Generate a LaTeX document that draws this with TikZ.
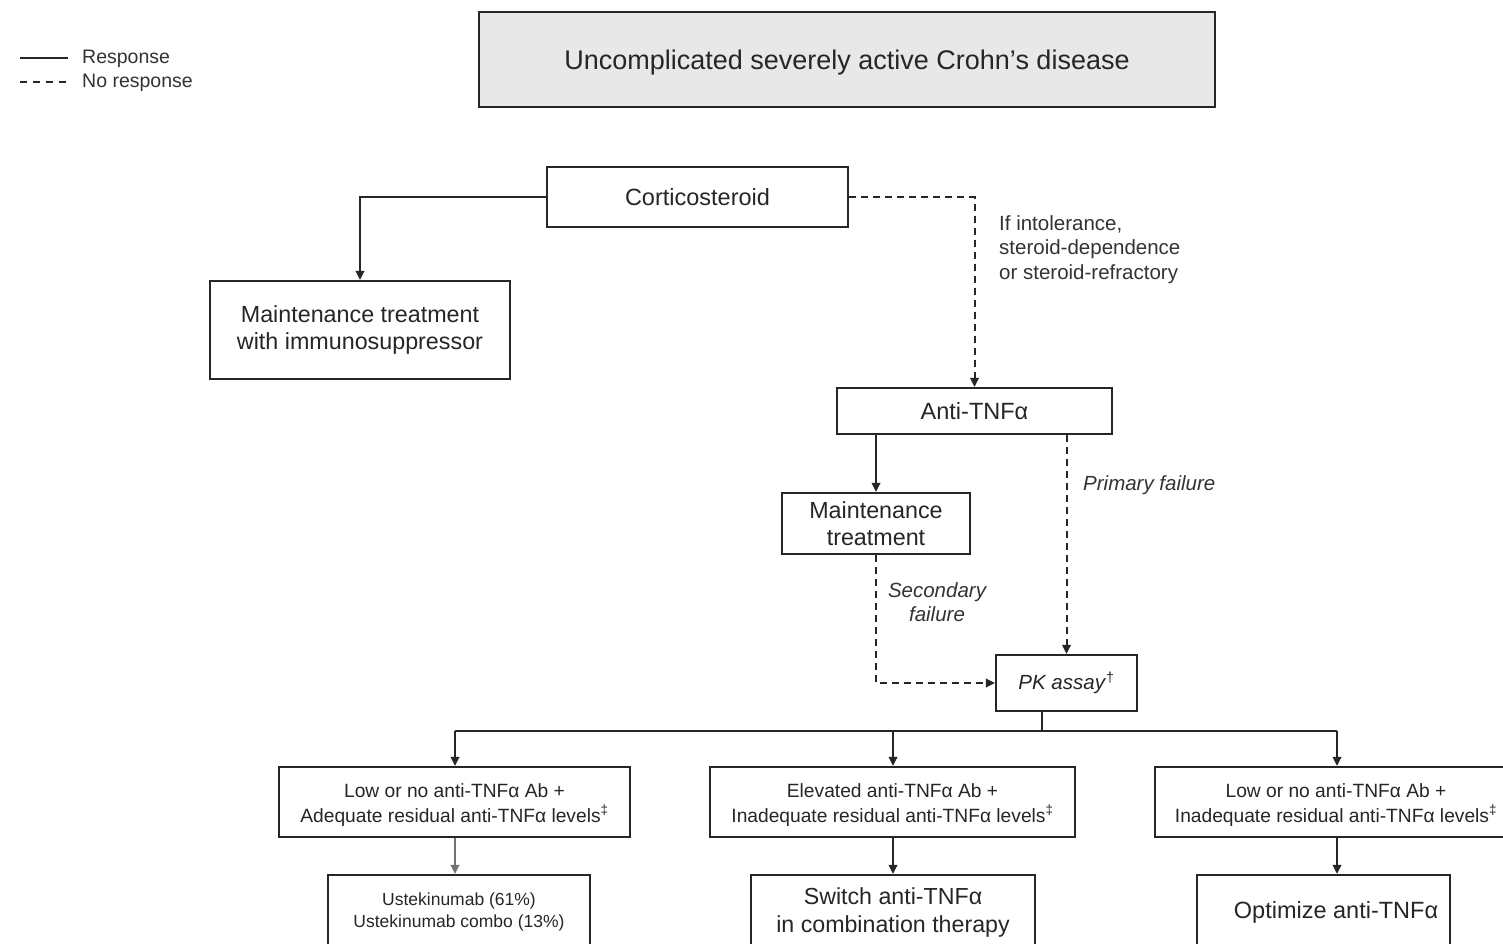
\documentclass[tikz,border=0pt]{standalone}
\usepackage{fontspec}
\setmainfont{Liberation Sans}
\usetikzlibrary{arrows.meta}
\newcommand{\fsz}[1]{\fontsize{#1}{30}\selectfont}
\newcommand{\lowr}[2]{\raisebox{-#1}[\height][\depth]{#2}}
\begin{document}
\begin{tikzpicture}[x=1pt,y=-1pt,
  box/.style={draw=black!85, line width=2.2pt, fill=white, align=center, inner sep=0pt, text=black!85},
  conn/.style={line width=2pt, draw=black!85},
  arr/.style={conn, -{Triangle[length=9pt,width=8.5pt]}},
  ndash/.style={arr, dash pattern=on 7pt off 5pt},
  lab/.style={text=black!80, inner sep=0pt}
]
\useasboundingbox (0,0) rectangle (1503,943);
\clip (0,0) rectangle (1503,943);
\fill[white] (0,0) rectangle (1503,943);

% legend
\coordinate (ls1) at (20,58); \coordinate (le1) at (68,58);
\coordinate (ls2) at (20,82); \coordinate (le2) at (68,82);
\draw[conn] (ls1) -- (le1);
\draw[conn, dash pattern=on 7pt off 6pt] (ls2) -- (le2);
\node[lab, anchor=west, font=\fsz{19.5}] (lg1) at (82,59) {Response};
\node[lab, anchor=west, font=\fsz{19.5}] (lg2) at (82,83) {No response};

% nodes
\node[box, fill=gray!18, minimum width=736, minimum height=95, font=\fsz{27}] (title) at (847,59.5) {\lowr{3pt}{Uncomplicated severely active Crohn's disease}};
\node[box, minimum width=301, minimum height=60, font=\fsz{23.5}] (cort) at (697.5,197) {Corticosteroid};
\node[box, minimum width=300, minimum height=98, font={\fontsize{23.3}{27.5}\selectfont}] (maint1) at (360,330) {Maintenance treatment\\with immunosuppressor};
\node[box, minimum width=275, minimum height=46, font=\fsz{23.5}] (anti) at (974.5,411) {Anti-TNFα};
\node[box, minimum width=188, minimum height=61, font={\fontsize{23.3}{26.5}\selectfont}] (maint2) at (876,523.5) {Maintenance\\treatment};
\node[box, minimum width=141, minimum height=56, font=\fsz{20.5}] (pk) at (1066.5,683) {\textit{PK assay}\textsuperscript{†}};

\node[box, minimum width=351, minimum height=70, font={\fontsize{19.2}{24}\selectfont}] (row1) at (454.5,802) {\lowr{3pt}{\shortstack{Low or no anti-TNFα Ab +\\[4.5pt]Adequate residual anti-TNFα levels\textsuperscript{‡}}}};
\node[box, minimum width=365, minimum height=70, font={\fontsize{19.2}{24}\selectfont}] (row2) at (892.5,802) {\lowr{3pt}{\shortstack{Elevated anti-TNFα Ab +\\[4.5pt]Inadequate residual anti-TNFα levels\textsuperscript{‡}}}};
\node[box, minimum width=362, minimum height=70, font={\fontsize{19.2}{24}\selectfont}] (row3) at (1336,802) {\lowr{3pt}{\shortstack{Low or no anti-TNFα Ab +\\[4.5pt]Inadequate residual anti-TNFα levels\textsuperscript{‡}}}};

\node[box, minimum width=262, minimum height=74, font={\fontsize{17.5}{21.5}\selectfont}] (bot1) at (459,912) {Ustekinumab (61\%)\\Ustekinumab combo (13\%)};
\node[box, minimum width=284, minimum height=74, font={\fontsize{23.2}{28}\selectfont}] (bot2) at (893,912) {Switch anti-TNFα\\in combination therapy};
\node[box, minimum width=253, minimum height=74, font=\fsz{23.5}] (bot3) at (1323.5,912) {\hspace*{25pt}Optimize anti-TNFα};

% labels
\node[lab, anchor=north west, align=left, font={\fontsize{20.5}{24.5}\selectfont}] (l1) at (999,215) {If intolerance,\\steroid-dependence\\or steroid-refractory};
\node[lab, anchor=west, font=\fsz{20.5}\itshape] (l2) at (1083,485) {Primary failure};
\node[lab, align=center, font={\fontsize{20.5}{24}\selectfont\itshape}] (l3) at (937,602) {Secondary\\failure};

% connectors
\draw[arr] (cort.west) -| (maint1.north);
\draw[ndash] (cort.east) -| (anti.north);
\draw[arr] (maint2.north |- anti.south) -- (maint2.north);
\draw[ndash] (pk.north |- anti.south) -- (pk.north);
\draw[ndash] (maint2.south) |- (pk.west);

\coordinate (split) at (1042,731);
\coordinate (b1) at (455,731);
\coordinate (b2) at (893,731);
\coordinate (b3) at (1337,731);
\draw[conn] (pk.south -| split) -- (split);
\draw[conn] (b1) -- (b3);
\draw[arr] (b1) -- (b1 |- row1.north);
\draw[arr] (b2) -- (b2 |- row2.north);
\draw[arr] (b3) -- (b3 |- row3.north);
\draw[arr, draw=black!55] (row1.south -| b1) -- (b1 |- bot1.north);
\draw[arr] (row2.south -| b2) -- (b2 |- bot2.north);
\draw[arr] (row3.south -| b3) -- (b3 |- bot3.north);
\end{tikzpicture}
\end{document}
